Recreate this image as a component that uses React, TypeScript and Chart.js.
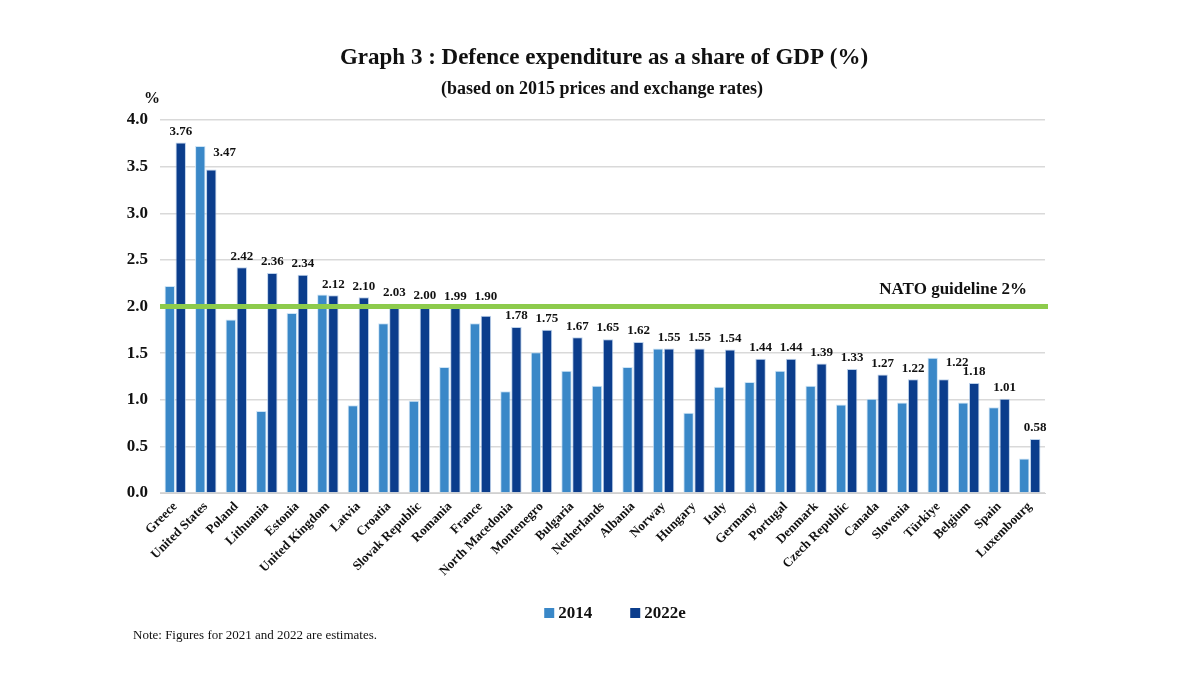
import React, { useEffect, useRef } from "react";
import { Chart, registerables } from "chart.js";

Chart.register(...registerables);

const countries = [
  "Greece", "United States", "Poland", "Lithuania", "Estonia", "United Kingdom",
  "Latvia", "Croatia", "Slovak Republic", "Romania", "France", "North Macedonia",
  "Montenegro", "Bulgaria", "Netherlands", "Albania", "Norway", "Hungary", "Italy",
  "Germany", "Portugal", "Denmark", "Czech Republic", "Canada", "Slovenia",
  "Türkiye", "Belgium", "Spain", "Luxembourg",
];

const values2014 = [
  2.22, 3.72, 1.86, 0.88, 1.93, 2.13, 0.94, 1.82, 0.99, 1.35, 1.82, 1.09, 1.51,
  1.31, 1.15, 1.35, 1.55, 0.86, 1.14, 1.19, 1.31, 1.15, 0.95, 1.01, 0.97, 1.45,
  0.97, 0.92, 0.37,
];

const values2022 = [
  3.76, 3.47, 2.42, 2.36, 2.34, 2.12, 2.10, 2.03, 2.00, 1.99, 1.90, 1.78, 1.75,
  1.67, 1.65, 1.62, 1.55, 1.55, 1.54, 1.44, 1.44, 1.39, 1.33, 1.27, 1.22, 1.22,
  1.18, 1.01, 0.58,
];

const seriesNames = ["2014", "2022e"];
const yTicks = [0, 0.5, 1.0, 1.5, 2.0, 2.5, 3.0, 3.5, 4.0];
const guidelineValue = 2.0;
const guidelineLabel = "NATO guideline 2%";
const titleText = "Graph 3 : Defence expenditure as a share of GDP (%)";
const subtitleText = "(based on 2015 prices and exchange rates)";
const unitText = "%";
const noteText = "Note: Figures for 2021 and 2022 are estimates.";

const COLOR_2014 = "#3A88C8";
const COLOR_2022 = "#0B3D8C";
const GREEN = "#8DCB4C";
const FONT = "'Liberation Serif', 'DejaVu Serif', serif";

const overlayPlugin = {
  id: "overlay",
  afterDatasetsDraw(chart: any) {
    const ctx = chart.ctx;
    const { chartArea } = chart;
    const y = chart.scales.y;
    const lineY = y.getPixelForValue(guidelineValue);

    // guideline
    ctx.save();
    ctx.strokeStyle = GREEN;
    ctx.lineWidth = 5;
    ctx.beginPath();
    ctx.moveTo(chartArea.left, lineY);
    ctx.lineTo(chartArea.right + 3, lineY);
    ctx.stroke();

    ctx.fillStyle = "#111";
    ctx.font = `bold 17px ${FONT}`;
    ctx.textAlign = "right";
    ctx.textBaseline = "middle";
    ctx.fillText(guidelineLabel, chartArea.right - 18, lineY - 17);

    // data labels for 2022e
    const meta = chart.getDatasetMeta(1);
    ctx.font = `bold 13px ${FONT}`;
    ctx.textBaseline = "middle";
    meta.data.forEach((bar: any, i: number) => {
      const v = values2022[i];
      const txt = v.toFixed(2);
      let ly = bar.y - 11;
      let lx = bar.x;
      ctx.textAlign = "center";
      if (values2014[i] > v + 0.01) {
        ctx.textAlign = "left";
        lx = bar.x + 2;
        if (values2014[i] - v > 0.15) ly = bar.y - 17;
      }
      // keep labels clear of the guideline
      if (v < guidelineValue + 0.15 && v > guidelineValue - 0.15) {
        ly = Math.min(ly, lineY - 10);
      }
      ctx.fillText(txt, lx, ly);
    });
    ctx.restore();
  },
  afterDraw(chart: any) {
    const ctx = chart.ctx;
    const { chartArea } = chart;
    ctx.save();
    ctx.fillStyle = "#111";
    ctx.textBaseline = "middle";
    ctx.textAlign = "center";
    ctx.font = `bold 23px ${FONT}`;
    ctx.fillText(titleText, 604, 58);
    ctx.font = `bold 18px ${FONT}`;
    ctx.fillText(subtitleText, 602, 89);

    ctx.font = `bold 16px ${FONT}`;
    ctx.fillText(unitText, chartArea.left - 8, 99);

    // legend
    const legendY = 613;
    ctx.font = `bold 17px ${FONT}`;
    ctx.textAlign = "left";
    const colors = [COLOR_2014, COLOR_2022];
    const box = 10;
    const gap = 38;
    const widths = seriesNames.map((n) => box + 4 + ctx.measureText(n).width);
    const total = widths.reduce((a, b) => a + b, 0) + gap * (seriesNames.length - 1);
    let x = 615 - total / 2;
    seriesNames.forEach((n, i) => {
      ctx.fillStyle = colors[i];
      ctx.fillRect(x, legendY - box / 2, box, box);
      ctx.fillStyle = "#111";
      ctx.fillText(n, x + box + 4, legendY + 1);
      x += widths[i] + gap;
    });

    // note
    ctx.font = `13px ${FONT}`;
    ctx.textAlign = "left";
    ctx.fillText(noteText, 133, 636);
    ctx.restore();
  },
};

export default function App() {
  const ref = useRef<HTMLCanvasElement | null>(null);
  useEffect(() => {
    if (!ref.current) return;
    const chart = new Chart(ref.current, {
      type: "bar",
      data: {
        labels: countries,
        datasets: [
          {
            label: seriesNames[0],
            data: values2014,
            backgroundColor: COLOR_2014,
            borderColor: "rgba(200,225,245,0.9)",
            borderWidth: 1,
            categoryPercentage: 0.72,
            barPercentage: 0.95,
          },
          {
            label: seriesNames[1],
            data: values2022,
            backgroundColor: COLOR_2022,
            borderColor: "rgba(160,190,225,0.7)",
            borderWidth: 1,
            categoryPercentage: 0.72,
            barPercentage: 0.95,
          },
        ],
      },
      options: {
        responsive: false,
        animation: false,
        layout: { padding: { left: 110, right: 155, top: 120, bottom: 0 } },
        plugins: {
          legend: { display: false },
          title: { display: false },
          tooltip: { enabled: false },
        },
        scales: {
          x: {
            grid: { display: false, drawTicks: false },
            border: { color: "#d0d0d0", width: 1 },
            ticks: {
              minRotation: 45,
              maxRotation: 45,
              autoSkip: false,
              color: "#111",
              padding: 6,
              font: { family: FONT, size: 13, weight: "bold" },
            },
            afterFit(scale: any) {
              scale.height = 182;
            },
          },
          y: {
            min: 0,
            max: 4,
            afterBuildTicks(scale: any) {
              scale.ticks = yTicks.map((v) => ({ value: v }));
            },
            grid: { color: "#d9d9d9", lineWidth: 1.5, drawTicks: false },
            border: { display: false },
            ticks: {
              color: "#111",
              padding: 12,
              font: { family: FONT, size: 17, weight: "bold" },
              callback: (v: any) => Number(v).toFixed(1),
            },
            afterFit(scale: any) {
              scale.width = 50;
            },
          },
        },
      },
      plugins: [overlayPlugin],
    });
    return () => chart.destroy();
  }, []);
  return (
    <div style={{ position: "absolute", left: 0, top: 0, width: 1200, height: 675, background: "#fff" }}>
      <canvas ref={ref} width={1200} height={675} style={{ display: "block" }} />
    </div>
  );
}
